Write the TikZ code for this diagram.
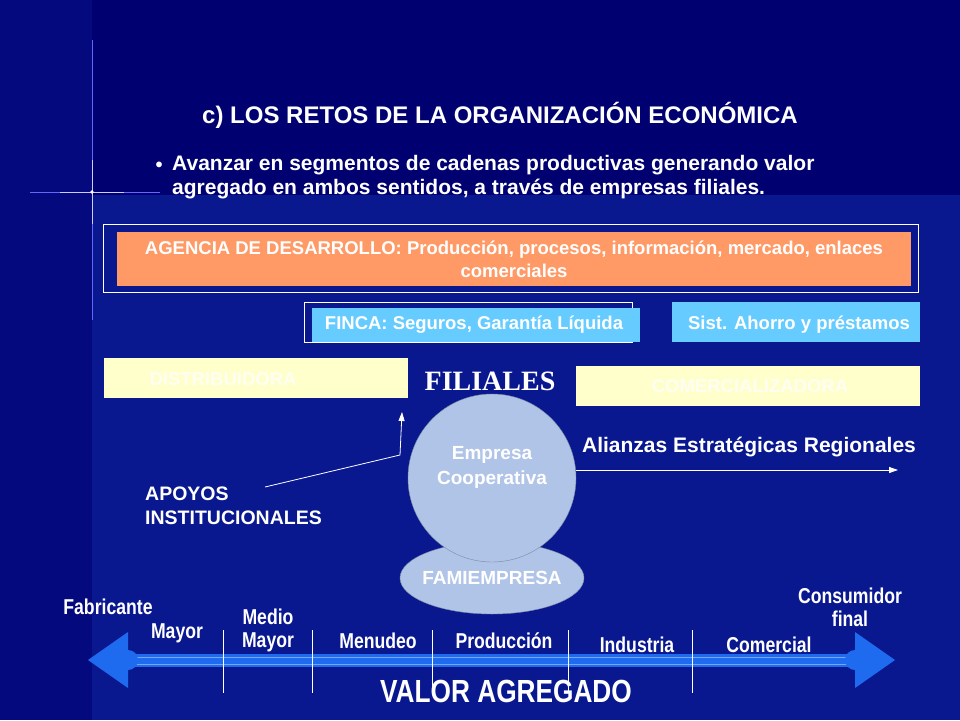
\documentclass[tikz,border=0pt]{standalone}
\usepackage{fontspec}
\setmainfont{Liberation Sans}
\newfontfamily\serifb{Liberation Serif}
\newfontfamily\narrowf{Liberation Sans}[FakeStretch=0.82]
\usetikzlibrary{arrows.meta,shapes.geometric}
\definecolor{bgdark}{HTML}{000070}
\definecolor{bglight}{HTML}{0A1890}
\definecolor{orangebox}{HTML}{FF9966}
\definecolor{skybox}{HTML}{66CCFF}
\definecolor{yelbox}{HTML}{FFFFCC}
\definecolor{circ}{HTML}{B0C4E8}
\definecolor{arrblue}{HTML}{1E6BF0}
\tikzset{
  txt/.style={text=white,font=\bfseries\fontsize{18.5}{22}\selectfont,align=center,inner sep=0},
  lbl/.style={text=white,font=\narrowf\bfseries\fontsize{21.5}{23}\selectfont,align=center,inner sep=0},
  tick/.style={draw=white,line width=1pt},
}
\begin{document}
\begin{tikzpicture}[x=1pt,y=-1pt]
\useasboundingbox (0,0) rectangle (960,720);
\fill[bgdark] (0,0) rectangle (960,720);
\fill[bglight] (92,195) rectangle (960,720);
\fill[bgdark!60!bglight] (0,0) rectangle (92,720);
% star
\draw[white!40!blue,line width=0.8pt] (92,40) -- (92,320);
\draw[white!40!blue,line width=0.8pt] (30,192) -- (160,192);
\draw[white!80!blue,line width=1pt] (92,160) -- (92,224);
\draw[white!80!blue,line width=1pt] (60,192) -- (124,192);
\fill[white] (92,192) circle (1.8);
% title
\node[txt,font=\bfseries\fontsize{24}{28}\selectfont] (title) at (500,115) {c) LOS RETOS DE LA ORGANIZACIÓN ECONÓMICA};
\node[txt,font=\bfseries\fontsize{20}{24}\selectfont] (bul) at (159,167) {•};
\node[txt,font=\bfseries\fontsize{21}{24}\selectfont,align=left,anchor=north west] (bt) at (172,155) {Avanzar en segmentos de cadenas productivas generando valor\\agregado en ambos sentidos, a través de empresas filiales.};
% agencia
\draw[white,line width=0.8pt] (103,224) rectangle (918,292);
\fill[orangebox] (117,232) rectangle (911,286);
\node[txt,font=\bfseries\fontsize{18.5}{23}\selectfont] (ag) at (514,259) {AGENCIA DE DESARROLLO: Producción, procesos, información, mercado, enlaces\\comerciales};
% finca
\draw[white,line width=0.8pt] (304,302) rectangle (632,342);
\fill[skybox] (312,308) rectangle (640,342);
\node[txt] (finca) at (474,325) {FINCA: Seguros, Garantía Líquida};
\fill[skybox] (672,302) rectangle (920,342);
\node[txt] (sist) at (799,325) {Sist. Ahorro y préstamos};
% distribuidora
\fill[yelbox] (104,358) rectangle (408,398);
\node[txt,text=white!95!yellow] (dist) at (223,379) {DISTRIBUIDORA};
\fill[yelbox] (576,366) rectangle (920,406);
\node[txt,text=white!95!yellow] (com) at (750,386) {COMERCIALIZADORA};
\node[text=white,font=\serifb\bfseries\fontsize{28}{32}\selectfont,inner sep=0] (fil) at (490,381) {FILIALES};
% ellipse and circle
\node[ellipse,fill=circ,draw=circ!70!black,minimum width=184,minimum height=72,inner sep=0] (fam) at (492,578) {};
\node[circle,fill=circ,draw=circ!70!black,minimum size=168,inner sep=0] (emp) at (492,478) {};
\node[txt,font=\bfseries\fontsize{19}{25}\selectfont] (empt) at (492,467) {Empresa\\Cooperativa};
\node[txt,font=\bfseries\fontsize{19}{20}\selectfont] (famt) at (492,578) {FAMIEMPRESA};
% arrows
\node[txt,align=left,anchor=north west,font=\bfseries\fontsize{19.5}{24}\selectfont] (apo) at (145,487) {APOYOS\\INSTITUCIONALES};
\coordinate (a1) at (265,487);
\coordinate (a2) at (400,455);
\coordinate (a3) at (402,412);
\draw[white,line width=0.8pt,-{Triangle[width=6pt,length=9pt]}] (a1) -- (a2) -- (a3);
\node[txt,font=\bfseries\fontsize{21}{24}\selectfont] (ali) at (749,447) {Alianzas Estratégicas Regionales};
\coordinate (r2) at (898,470);
\draw[white,line width=0.8pt,-{Triangle[width=6pt,length=9pt]}] (emp.east |- 0,470) -- (r2);
% bottom arrow
\coordinate (L) at (88,660);
\coordinate (R) at (895,660);
\fill[arrblue] (120,654) rectangle (865,667);
\draw[arrblue!60!white,line width=1pt] (120,657) -- (865,657);
\draw[arrblue!60!white,line width=1pt] (120,664) -- (865,664);
\fill[arrblue] (L) -- (128,632) -- (128,688) -- cycle;
\fill[arrblue] (R) -- (855,632) -- (855,688) -- cycle;
\fill[arrblue] (855,660) circle (10);
\fill[arrblue] (128,660) circle (10);
\foreach \x in {223,312,432,568,692} \draw[tick] (\x,630) -- (\x,693);
\node[lbl] (f1) at (108,607) {Fabricante};
\node[lbl] (f2) at (177,633) {Mayor};
\node[lbl] (f3) at (268,630) {Medio\\Mayor};
\node[lbl] (f4) at (378,641) {Menudeo};
\node[lbl] (f5) at (504,641) {Producción};
\node[lbl] (f6) at (637,645) {Industria};
\node[lbl] (f7) at (769,645) {Comercial};
\node[lbl] (f8) at (850,607) {Consumidor\\final};
\node[txt,font=\narrowf\bfseries\fontsize{32}{34}\selectfont] (va) at (506,691) {VALOR AGREGADO};
\end{tikzpicture}
\end{document}
